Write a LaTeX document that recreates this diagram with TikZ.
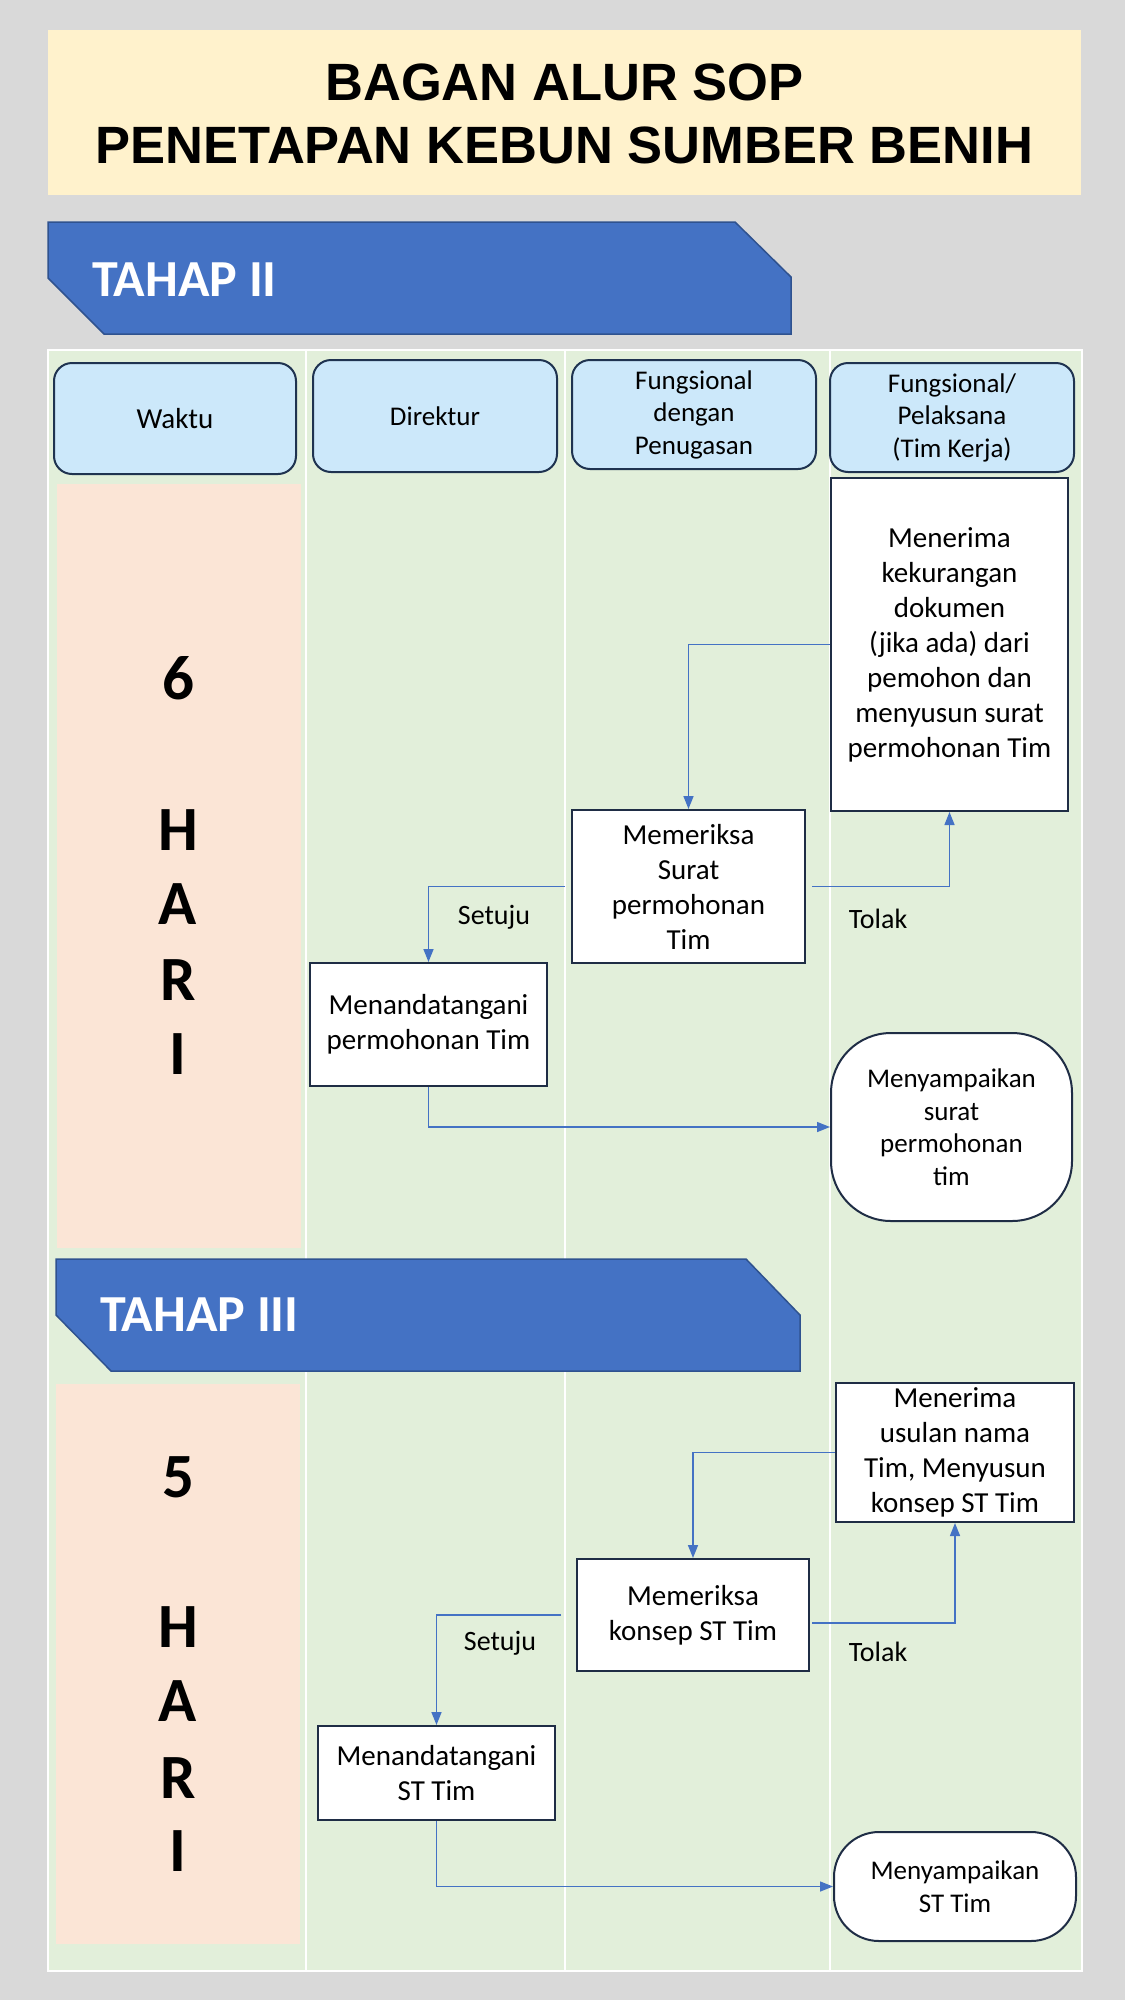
\documentclass[tikz,border=0pt]{standalone}
\usepackage{fontspec}
\setmainfont{Carlito}
\newfontfamily\titlefont{Liberation Sans}
\usetikzlibrary{arrows.meta}
\definecolor{pagebg}{HTML}{D9D9D9}
\definecolor{titlefill}{HTML}{FFF2CC}
\definecolor{bannerfill}{HTML}{4472C4}
\definecolor{bannerline}{HTML}{2F528F}
\definecolor{lanefill}{HTML}{E2EFDA}
\definecolor{headfill}{HTML}{CCE8FA}
\definecolor{headline}{HTML}{1F3350}
\definecolor{peach}{HTML}{FBE5D6}
\definecolor{flowblue}{HTML}{4472C4}
\definecolor{boxline}{HTML}{1F2D45}
\tikzset{
  headbox/.style={draw=headline, line width=2pt, fill=headfill, rounded corners=18pt, inner sep=0pt, align=center, font=\fontsize{27}{32.5}\selectfont},
  procbox/.style={draw=boxline, line width=2pt, fill=white, inner sep=0pt, align=center, font=\fontsize{29}{35}\selectfont},
  endbox/.style={draw=boxline, line width=2pt, fill=white, inner sep=0pt, align=center, font=\fontsize{27}{32.5}\selectfont},
  flow/.style={draw=flowblue, line width=1.5pt, -{Triangle[length=13pt,width=10pt]}},
  lbl/.style={inner sep=0pt, font=\fontsize{28}{34}\selectfont},
  daynum/.style={inner sep=0pt, font=\fontsize{63}{70}\selectfont\bfseries},
  banner/.style={fill=bannerfill, draw=bannerline, line width=1.5pt},
  bannertext/.style={inner sep=0pt, anchor=west, text=white, font=\fontsize{52}{58}\selectfont\bfseries},
}
\begin{document}
\begin{tikzpicture}[x=1pt,y=-1pt]
\useasboundingbox (0,0) rectangle (1125,2000);
\fill[pagebg] (0,0) rectangle (1125,2000);
% title
\node[fill=titlefill, minimum width=1033pt, minimum height=165pt, inner sep=0pt] (titlebox) at (564.5,112) {};
\node[align=center, inner sep=0pt, font=\titlefont\bfseries\fontsize{52.5}{63}\selectfont] (title) at (564.5,114) {BAGAN ALUR SOP\\PENETAPAN KEBUN SUMBER BENIH};
% banner II
\draw[banner] (48,222) -- (735,222) -- (791,277) -- (791,334) -- (104,334) -- (48,278) -- cycle;
\node[bannertext] (tahap2) at (92,280) {TAHAP II};
% swimlane
\fill[lanefill] (48,350) rectangle (1082,1971);
\draw[white, line width=2pt] (48,350) rectangle (1082,1971);
\foreach \xx in {306,565,830} \draw[white, line width=2pt] (\xx,350) -- (\xx,1971);
% peach panels
\fill[peach] (57,484) rectangle (301,1248);
\fill[peach] (56,1384) rectangle (300,1944);
% headers
\node[headbox, minimum width=242pt, minimum height=111pt, font=\fontsize{29}{34}\selectfont] (hwaktu) at (175,418.5) {Waktu};
\node[headbox, minimum width=244pt, minimum height=112pt] (hdir) at (435,416) {Direktur};
\node[headbox, minimum width=244pt, minimum height=109pt] (hfung) at (694,414.5) {Fungsional\\dengan\\Penugasan};
\node[headbox, minimum width=244pt, minimum height=109pt] (hpel) at (952,417.5) {Fungsional/\\Pelaksana\\(Tim Kerja)};
% days
\node[daynum] (n6) at (178,678) {6};
\node[daynum] (h1) at (178,830) {H};
\node[daynum] (a1) at (178,904) {A};
\node[daynum] (r1) at (178,980) {R};
\node[daynum] (i1) at (178,1054) {I};
\node[daynum] (n5) at (178,1477) {5};
\node[daynum] (h2) at (178,1627) {H};
\node[daynum] (a2) at (178,1701) {A};
\node[daynum] (r2) at (178,1778) {R};
\node[daynum] (i2) at (178,1851) {I};
% Tahap II boxes
\node[procbox, minimum width=237pt, minimum height=333pt] (m1) at (949.5,644.5) {Menerima\\kekurangan\\dokumen\\(jika ada) dari\\pemohon dan\\menyusun surat\\permohonan Tim};
\node[procbox, minimum width=233pt, minimum height=153pt] (p1) at (688.5,886.5) {Memeriksa\\Surat\\permohonan\\Tim};
\node[procbox, minimum width=237pt, minimum height=123pt] (d1) at (428.5,1024.5) {Menandatangani\\permohonan Tim};
\node[endbox, rounded corners=60pt, minimum width=241pt, minimum height=188pt] (s1) at (951.5,1127) {Menyampaikan\\surat\\permohonan\\tim};
\draw[flow] (m1.west) -| (p1.north);
\draw[flow] ([xshift=6pt]p1.east) -| (m1.south);
\draw[flow] ([xshift=-6pt]p1.west) -| (d1.north);
\draw[flow] (d1.south) |- (s1.west);
\node[lbl] (setuju1) at (494,917) {Setuju};
\node[lbl] (tolak1) at (878,919) {Tolak};
% banner III
\draw[banner] (56,1259) -- (746,1259) -- (800,1315) -- (800,1371) -- (111,1371) -- (56,1315) -- cycle;
\node[bannertext] (tahap3) at (100,1315) {TAHAP III};
% Tahap III boxes
\node[procbox, minimum width=238pt, minimum height=139pt] (m2) at (955,1452.5) {Menerima\\usulan nama\\Tim, Menyusun\\konsep ST Tim};
\node[procbox, minimum width=232pt, minimum height=112pt] (p2) at (693,1615) {Memeriksa\\konsep ST Tim};
\node[procbox, minimum width=237pt, minimum height=94pt] (d2) at (436.5,1773) {Menandatangani\\ST Tim};
\node[endbox, rounded corners=45pt, minimum width=242pt, minimum height=109pt] (s2) at (955,1886.5) {Menyampaikan\\ST Tim};
\draw[flow] (m2.west) -| (p2.north);
\draw[flow] ([xshift=2pt,yshift=-8pt]p2.east) -| (m2.south);
\draw[flow] ([xshift=-15pt]p2.west) -| (d2.north);
\draw[flow] (d2.south) |- (s2.west);
\node[lbl] (setuju2) at (500,1643) {Setuju};
\node[lbl] (tolak2) at (878,1652) {Tolak};
\end{tikzpicture}
\end{document}
